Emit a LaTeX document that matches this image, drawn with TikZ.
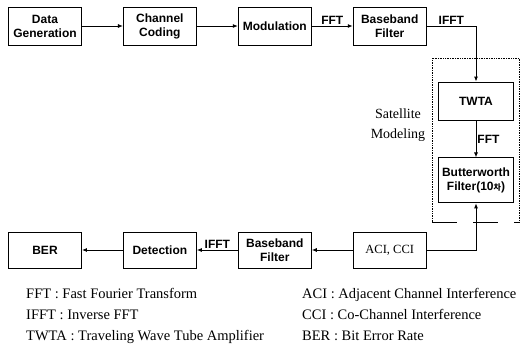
\documentclass[tikz,border=0pt]{standalone}
\usepackage{fontspec}
\setmainfont{Liberation Serif}
\setsansfont{Liberation Sans}
\newfontfamily\krfont{Noto Sans CJK KR}
\usetikzlibrary{arrows.meta,positioning}

\begin{document}
\begin{tikzpicture}[x=1pt,y=-1pt,node distance=41pt,
  every node/.style={font=\sffamily\bfseries\fontsize{12}{14}\selectfont},
  box/.style={draw,line width=0.9pt,minimum width=73pt,minimum height=38pt,
              inner sep=2pt,align=center},
  ar/.style={-{Latex[length=5pt,width=4pt]},line width=0.9pt},
  lbl/.style={inner sep=1pt},
  note/.style={font=\rmfamily\fontsize{14.5}{21}\selectfont,align=left,inner sep=0pt}]
\useasboundingbox (0,0) rectangle (522,351);
% transmitter chain
\node[box] (gen) at (45,26) {Data\\Generation};
\node[box,right=of gen] (cod) {Channel\\Coding};
\node[box,right=of cod] (mod) {Modulation};
\node[box,right=of mod] (bbf) {Baseband\\Filter};
% satellite part
\draw[densely dotted,line width=0.7pt] (432,222) -- (432,58) -- (519,58) -- (519,222);
\draw[line width=0.7pt,dash pattern=on 25pt off 16pt] (432,222) -- (519,222);
\node[box,minimum width=75pt] (twta) at (476,101) {TWTA};
\node[box,minimum width=75pt,minimum height=45pt,below=37pt of twta] (bw)
  {Butterworth\\Filter(10{\krfont\fontsize{8}{10}\selectfont 차})};
\node[note,align=center,font=\rmfamily\fontsize{14}{20}\selectfont] (sat) at (398,125) {Satellite\\Modeling};
% receiver chain
\node[box,minimum height=36pt] (ber) at (45,250) {BER};
\node[box,minimum height=36pt,right=of ber] (det) {Detection};
\node[box,minimum height=36pt,right=of det] (bbr) {Baseband\\Filter};
\node[box,minimum height=36pt,right=of bbr,font=\rmfamily\fontsize{12.5}{14}\selectfont] (aci) {ACI, CCI};
% connectors
\draw[ar] (gen) -- (cod);
\draw[ar] (cod) -- (mod);
\draw[ar] (mod) -- node[lbl,above]{FFT} (bbf);
\draw[ar] (bbf.east) -| node[lbl,above,pos=0.25]{IFFT} (twta.north);
\draw[ar] (twta) -- node[lbl,right]{FFT} (bw);
\draw[ar] (aci.east) -| (bw.south);
\draw[ar] (aci) -- (bbr);
\draw[ar] (bbr) -- node[lbl,above]{IFFT} (det);
\draw[ar] (det) -- (ber);
% abbreviations
\node[note,anchor=north west] (leg1) at (26,288)
  {FFT : Fast Fourier Transform\\IFFT : Inverse FFT\\TWTA : Traveling Wave Tube Amplifier};
\node[note,anchor=north west] (leg2) at (302,288)
  {ACI : Adjacent Channel Interference\\CCI : Co-Channel Interference\\BER : Bit Error Rate};
\end{tikzpicture}
\end{document}
